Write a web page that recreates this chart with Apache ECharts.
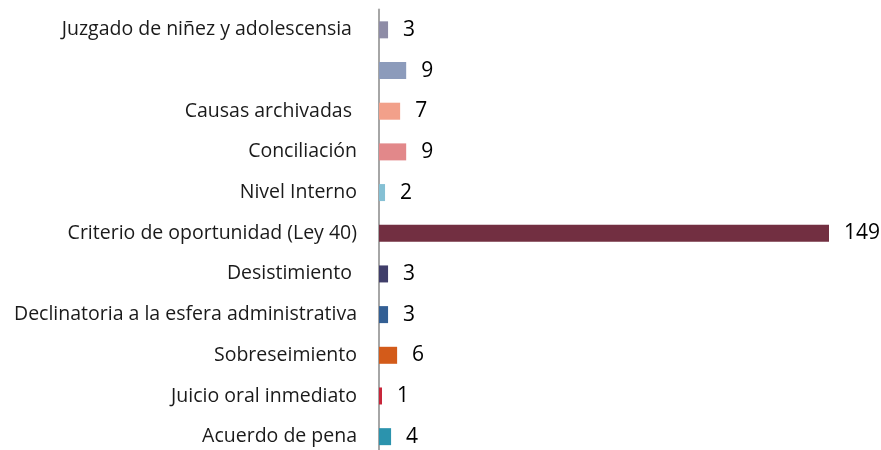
<!DOCTYPE html>
<html>
<head>
<meta charset="utf-8">
<script src="https://cdn.jsdelivr.net/npm/echarts@6/dist/echarts.min.js"></script>
<style>
  html, body { margin: 0; padding: 0; background: #fff; overflow: hidden; }
  /* the plot runs a few px past the bottom edge of the picture */
  #chart { width: 881px; height: 457px; }
</style>
</head>
<body>
<div id="chart"></div>
<script>
// categories from bottom to top
var categories = [
  'Acuerdo de pena',
  'Juicio oral inmediato',
  'Sobreseimiento',
  'Declinatoria a la esfera administrativa',
  'Desistimiento ',
  'Criterio de oportunidad (Ley 40)',
  'Nivel Interno',
  'Conciliación',
  'Causas archivadas ',
  '',
  'Juzgado de niñez y adolescensia '
]
var values = [4, 1, 6, 3, 3, 149, 2, 9, 7, 9, 3]
var barColors = [
  '#2b93ad', '#c8263a', '#d35b1a', '#335f94', '#403e6a',
  '#722f41', '#85c0d4', '#e2888a', '#f2a08a', '#8c9bbb', '#8e8ca6'
]

var chart = echarts.init(document.getElementById('chart'))
var option = {
  animation: false,
  grid: {
    left: 379,
    right: 52,
    top: 9.5,
    bottom: 0,
    containLabel: false
  },
  xAxis: {
    type: 'value',
    min: 0,
    max: 149,
    show: false
  },
  yAxis: {
    type: 'category',
    data: categories,
    axisTick: { show: false },
    axisLine: { lineStyle: { color: '#a6a6a6', width: 2 } },
    axisLabel: {
      margin: 22,
      color: '#1a1a1a',
      fontFamily: 'Open Sans',
      fontSize: 19.5
    }
  },
  series: [{
    type: 'bar',
    barWidth: 17,
    data: values.map(function (v, i) {
      return { value: v, itemStyle: { color: barColors[i] } }
    }),
    label: {
      show: true,
      position: 'right',
      distance: 15,
      color: '#000',
      fontFamily: 'Open Sans',
      fontSize: 21
    }
  }]
}
chart.setOption(option)
</script>
</body>
</html>
